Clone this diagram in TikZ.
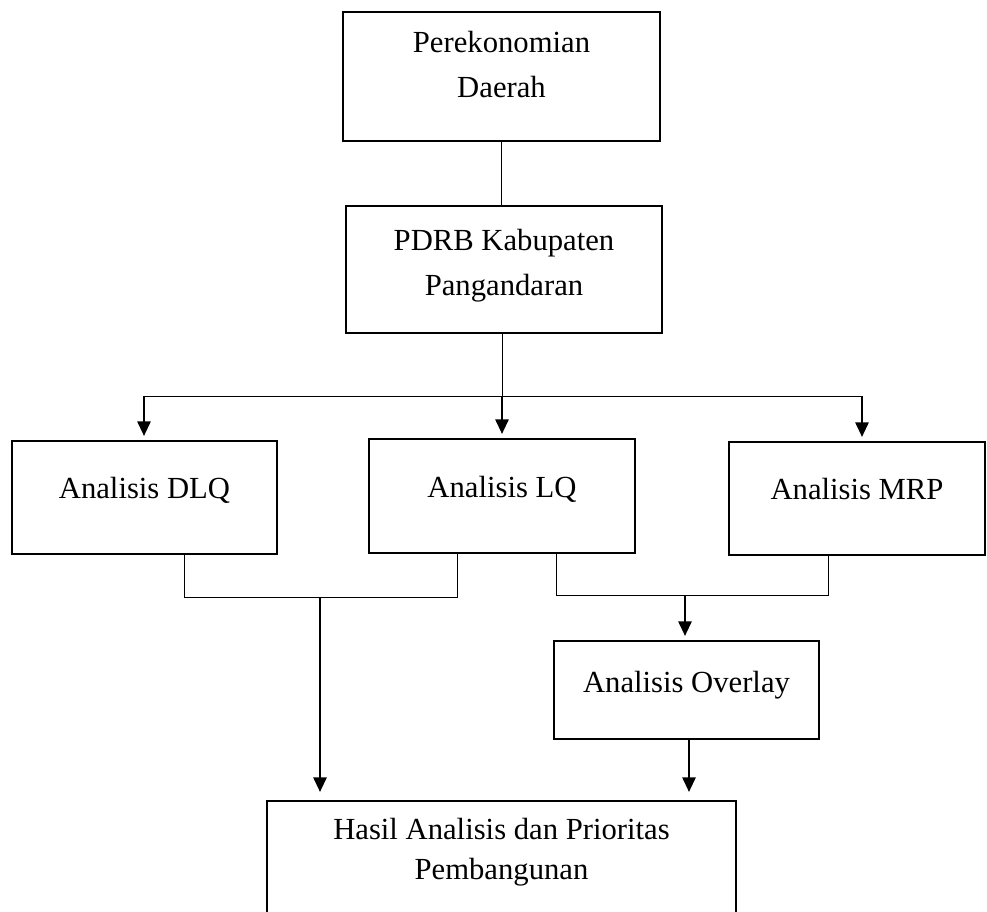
\documentclass[tikz,border=0pt]{standalone}
\usepackage{fontspec}
\setmainfont{Liberation Serif}
\usepackage{tikz}
\usetikzlibrary{positioning}
\usetikzlibrary{arrows.meta}

\newcommand{\boxlabel}[2][5pt]{\raisebox{#1}[\height][\depth]{\begin{tabular}{c}#2\end{tabular}}}

\tikzset{
    kotak/.style={draw=black, line width=1.6pt, inner sep=0pt, font=\fontsize{23}{30}\selectfont},
    garis/.style={draw=black, line width=0.75pt},
    panah/.style={draw=black, line width=1.5pt, -{Triangle[width=10pt,length=11pt]}, shorten >=3pt},
}

\begin{document}
\begin{tikzpicture}[x=0.75pt, y=-0.75pt]
    \useasboundingbox (0,0) rectangle (987,911);
    \clip (0,0) rectangle (987,911);

    \node[kotak, font=\fontsize{23}{34}\selectfont, minimum width=237.75pt, minimum height=96.75pt] (ekonomi) at (501.5,76.5) {\boxlabel[8pt]{Perekonomian\\ Daerah}};
    \node[kotak, font=\fontsize{23}{34}\selectfont, minimum width=237pt, minimum height=95.25pt] (pdrb) at (504,269.5) {\boxlabel[4pt]{PDRB Kabupaten\\ Pangandaran}};

    \node[kotak, minimum width=198.75pt, minimum height=84.75pt] (dlq) at (144.5,497.5) {\boxlabel[5.5pt]{Analisis DLQ}};
    \node[kotak, minimum width=199.5pt, minimum height=85.5pt] (lq) at (502,496) {\boxlabel{Analisis LQ}};
    \node[kotak, minimum width=192pt, minimum height=84.75pt] (mrp) at (857,498.5) {\boxlabel{Analisis MRP}};

    \node[kotak, minimum width=198.75pt, minimum height=73.5pt] (overlay) at (686.5,690) {\boxlabel[4.5pt]{Analisis Overlay}};
    \node[kotak, minimum width=351.75pt, minimum height=103.5pt] (hasil) at (501.5,870) {\boxlabel[14pt]{Hasil Analisis dan Prioritas\\ Pembangunan}};

    \coordinate (cabangKiri) at (144,396);
    \coordinate (cabangKanan) at (862,396);
    \coordinate (gabungKiri) at (320,597);
    \coordinate (gabungKanan) at (685,595);

    \draw[garis] (ekonomi.south) -- (ekonomi.south |- pdrb.north);
    \draw[garis] (502,0 |- pdrb.south) -- (502,0 |- cabangKiri) coordinate (cabangTengah);
    \draw[garis] (cabangKiri) -- (cabangKanan);
    \draw[panah] (cabangKiri) -- (cabangKiri |- dlq.north);
    \draw[panah] (cabangTengah) -- (lq.north);
    \draw[panah] (cabangKanan) -- (cabangKanan |- mrp.north);

    \draw[garis] (184,0 |- dlq.south) |- (457,597) -- (457,0 |- lq.south);
    \draw[garis] (556,0 |- lq.south) |- (828,595) -- (828,0 |- mrp.south);
    \draw[panah, shorten >=6pt] (gabungKiri) -- (gabungKiri |- hasil.north);
    \draw[panah] (gabungKanan) -- (gabungKanan |- overlay.north);
    \draw[panah, shorten >=6pt] (689,0 |- overlay.south) -- (689,0 |- hasil.north);
\end{tikzpicture}
\end{document}
